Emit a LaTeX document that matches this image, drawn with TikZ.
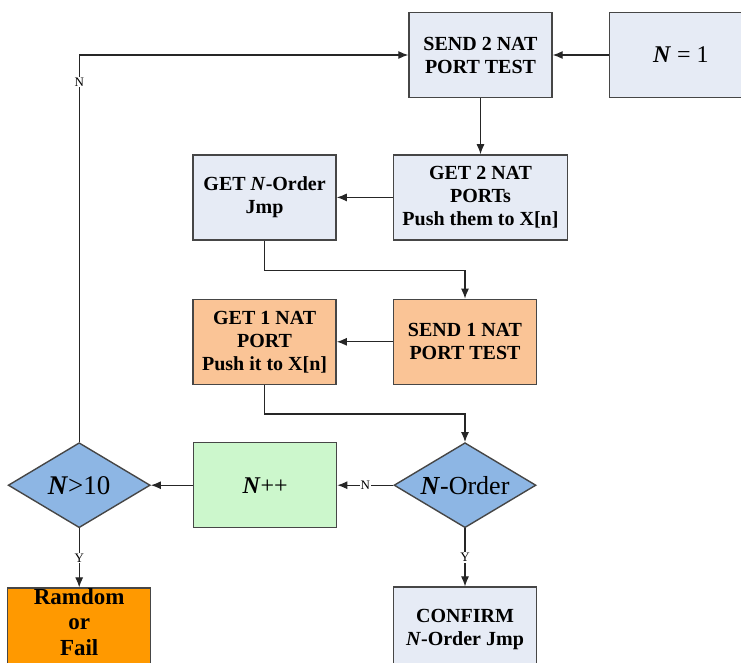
\documentclass[tikz,border=0pt]{standalone}
\usepackage{fontspec}
\setmainfont{Liberation Serif}
\usetikzlibrary{positioning,shapes.geometric,arrows.meta}
\definecolor{boxgrey}{RGB}{230,235,245}
\definecolor{lightorange}{RGB}{250,196,150}
\definecolor{darkorange}{RGB}{255,153,0}
\definecolor{lightgreen}{RGB}{204,247,204}
\definecolor{decblue}{RGB}{141,182,228}
\definecolor{edgegrey}{RGB}{70,70,70}
\newcommand{\Nit}{\textbf{\textit{N}}}

\begin{document}
\begin{tikzpicture}[x=1pt, y=1pt, node distance=56pt,
    box/.style={draw=edgegrey, line width=1.4pt, minimum width=143pt, minimum height=85pt,
      align=center, font=\fontsize{20}{23}\selectfont\bfseries},
    decision/.style={diamond, draw=edgegrey, line width=1.4pt, fill=decblue, aspect=1.67,
      minimum width=142pt, minimum height=85pt, inner sep=0pt, font=\fontsize{26}{30}\selectfont},
    flow/.style={-{Latex[length=10pt,width=8pt]}, line width=1.1pt, draw=black!85},
    tag/.style={fill=white, inner sep=1pt, font=\fontsize{13}{15}\selectfont}]
    \useasboundingbox (0,0) rectangle (741,-662);

    \node[box, fill=boxgrey] (sendtwo) at (480.5,-55) {SEND 2 NAT\\PORT TEST};
    \node[box, fill=boxgrey, font=\fontsize{24}{28}\selectfont, right=of sendtwo] (none) {\Nit\ = 1};
    \node[box, fill=boxgrey, minimum width=174pt, below=of sendtwo] (gettwo) {GET 2 NAT\\PORTs\\Push them to X[n]};
    \node[box, fill=boxgrey, left=of gettwo] (getjmp) {GET \textit{N}-Order\\Jmp};
    \node[box, fill=lightorange, below=58pt of getjmp] (getone) {GET 1 NAT\\PORT\\Push it to X[n]};
    \node[box, fill=lightorange, right=of getone] (sendone) {SEND 1 NAT\\PORT TEST};
    \node[decision, below=57pt of sendone] (norder) {\Nit-Order};
    \node[box, fill=lightgreen, font=\fontsize{24}{28}\selectfont, left=of norder] (nplus) {\Nit++};
    \node[decision, font=\fontsize{27}{30}\selectfont, left=42pt of nplus] (nten) {\Nit>10};
    \node[box, fill=boxgrey, below=58pt of norder] (confirm) {CONFIRM\\\textit{N}-Order Jmp};
    % text hangs from the top edge; the box runs off the page
    \node[box, fill=darkorange, font=\fontsize{23}{25.5}\selectfont\bfseries, inner ysep=0pt,
      text depth=34pt, below=59pt of nten] (ramdom) {Ramdom\\or\\Fail};

    \draw[flow] (none) -- (sendtwo);
    \draw[flow] (sendtwo) -- (gettwo);
    \draw[flow] (gettwo) -- (getjmp);
    \draw[flow] (getjmp.south) -- ++(0,-30) -| (sendone.north);
    \draw[flow] (sendone) -- (getone);
    \draw[flow] (getone.south) -- ++(0,-29) -| (norder.north);
    \draw[flow] (norder) -- node[tag] {N} (nplus);
    \draw[flow] (norder) -- node[tag] {Y} (confirm);
    \draw[flow] (nplus) -- (nten);
    \draw[flow] (nten) -- node[tag] {Y} (ramdom);
    \draw[flow] (nten.north) |- node[tag, pos=0.465] {N} (sendtwo.west);
\end{tikzpicture}
\end{document}
